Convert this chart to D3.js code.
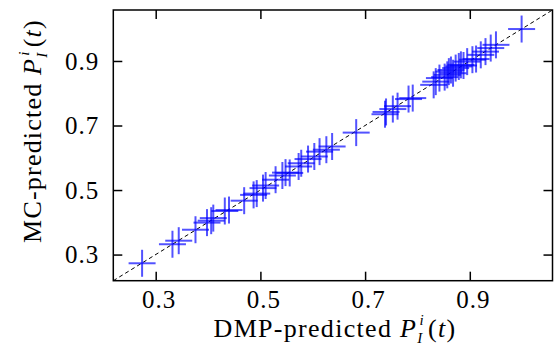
<!DOCTYPE html>
<html>
<head>
<meta charset="utf-8">
<script src="https://cdn.jsdelivr.net/npm/d3@7"></script>
<style>
  body { margin: 0; background: #fff; }
  svg text, svg tspan { font-family: "Liberation Serif", "DejaVu Serif", serif !important; fill: #000; }
</style>
</head>
<body>
<div class="chart-container"></div>
<script>
// DMP-predicted (x) vs MC-predicted (y) infection probabilities
const dmp = [0.274, 0.332, 0.344, 0.376, 0.398, 0.406, 0.41, 0.432, 0.44, 0.469,
  0.487, 0.493, 0.505, 0.51, 0.529, 0.542, 0.548, 0.556, 0.573, 0.578,
  0.591, 0.603, 0.613, 0.626, 0.637, 0.683, 0.738, 0.74, 0.753, 0.762,
  0.783, 0.791, 0.831, 0.835, 0.842, 0.852, 0.857, 0.86, 0.864, 0.868,
  0.873, 0.879, 0.883, 0.888, 0.895, 0.905, 0.912, 0.921, 0.93, 0.94,
  0.95, 0.999];
const mc = [0.273, 0.332, 0.343, 0.377, 0.399, 0.405, 0.413, 0.435, 0.438, 0.467,
  0.485, 0.489, 0.506, 0.514, 0.532, 0.545, 0.554, 0.553, 0.573, 0.583,
  0.596, 0.604, 0.619, 0.625, 0.635, 0.678, 0.735, 0.742, 0.751, 0.76,
  0.782, 0.785, 0.826, 0.836, 0.847, 0.85, 0.857, 0.867, 0.872, 0.862,
  0.878, 0.883, 0.888, 0.886, 0.898, 0.904, 0.906, 0.919, 0.929, 0.94,
  0.95, 0.999];
const xTicks = [0.3, 0.5, 0.7, 0.9];
const yTicks = [0.3, 0.5, 0.7, 0.9];
const domain = [0.219, 1.058];

const width = 554;
const height = 354;
const margin = { top: 10, right: 1.5, bottom: 73.3, left: 113.3 };
const tickLen = 9;
const crossHalf = 13.5;

const x = d3.scaleLinear().domain(domain).range([margin.left, width - margin.right]);
const y = d3.scaleLinear().domain(domain).range([height - margin.bottom, margin.top]);

const svg = d3
  .select(".chart-container")
  .append("svg")
  .attr("width", width)
  .attr("height", height);

// diagonal y = x
svg
  .append("line")
  .attr("x1", x(domain[0]))
  .attr("y1", y(domain[0]))
  .attr("x2", x(domain[1]))
  .attr("y2", y(domain[1]))
  .attr("stroke", "#000")
  .attr("stroke-width", 1)
  .attr("stroke-dasharray", "4,3");

// points as crosses
const pts = dmp.map((d, i) => ({ x: d, y: mc[i] }));

const cross = svg
  .append("g")
  .selectAll("g.pt")
  .data(pts)
  .enter()
  .append("g")
  .attr("class", "pt")
  .attr("transform", (d) => `translate(${x(d.x)},${y(d.y)})`);

cross
  .append("line")
  .attr("x1", -crossHalf)
  .attr("x2", crossHalf)
  .attr("stroke", "#0000ff")
  .attr("stroke-opacity", 0.68)
  .attr("stroke-width", 2);

cross
  .append("line")
  .attr("y1", -crossHalf)
  .attr("y2", crossHalf)
  .attr("stroke", "#0000ff")
  .attr("stroke-opacity", 0.68)
  .attr("stroke-width", 2);

// axes: ticks inward on all four sides
const x0 = margin.left, x1 = width - margin.right;
const y0 = height - margin.bottom, y1 = margin.top;

svg
  .append("g")
  .attr("class", "x-axis")
  .attr("transform", `translate(0,${y0})`)
  .call(d3.axisBottom(x).tickValues(xTicks).tickSize(-tickLen).tickFormat(d3.format(".1f")))
  .call((g) => g.select(".domain").remove())
  .call((g) => g.selectAll("text").attr("x", 3).attr("y", 27.5).attr("dy", null));

svg
  .append("g")
  .attr("transform", `translate(0,${y1})`)
  .call(d3.axisTop(x).tickValues(xTicks).tickSize(-tickLen).tickFormat(""))
  .call((g) => g.select(".domain").remove());

svg
  .append("g")
  .attr("class", "y-axis")
  .attr("transform", `translate(${x0},0)`)
  .call(d3.axisLeft(y).tickValues(yTicks).tickSize(-tickLen).tickPadding(14).tickFormat(d3.format(".1f")))
  .call((g) => g.select(".domain").remove())
  .call((g) => g.selectAll("text").attr("dy", "0.33em"));

svg
  .append("g")
  .attr("transform", `translate(${x1},0)`)
  .call(d3.axisRight(y).tickValues(yTicks).tickSize(-tickLen).tickFormat(""))
  .call((g) => g.select(".domain").remove());

svg.selectAll(".tick line").attr("stroke", "#000").attr("stroke-width", 1.5);
svg
  .selectAll(".tick text")
  .style("font-size", "25px")
  .style("letter-spacing", "1px")
  .attr("fill", "#000");

// frame
svg
  .append("rect")
  .attr("x", x0)
  .attr("y", y1)
  .attr("width", x1 - x0)
  .attr("height", y0 - y1)
  .attr("fill", "none")
  .attr("stroke", "#000")
  .attr("stroke-width", 1.5);

// axis titles with math
function mathLabel(t, prefix) {
  t.append("tspan").text(prefix);
  t.append("tspan").attr("font-style", "italic").text("P");
  t.append("tspan").attr("font-style", "italic").style("font-size", "15px").attr("dy", 6).text("I");
  t.append("tspan").attr("font-style", "italic").style("font-size", "15px").attr("dx", -4).attr("dy", -18).text("i");
  t.append("tspan").attr("dx", 3).attr("dy", 12).text("(");
  t.append("tspan").attr("font-style", "italic").text("t");
  t.append("tspan").text(")");
}

const xt = svg
  .append("text")
  .attr("x", 335)
  .attr("y", 337)
  .attr("text-anchor", "middle")
  .style("font-size", "26px")
  .style("letter-spacing", "1.3px");
mathLabel(xt, "DMP-predicted\u00a0");

const yt = svg
  .append("text")
  .attr("transform", "translate(41,131) rotate(-90)")
  .attr("text-anchor", "middle")
  .style("font-size", "26px")
  .style("letter-spacing", "1.2px");
mathLabel(yt, "MC-predicted\u00a0");
</script>
</body>
</html>
